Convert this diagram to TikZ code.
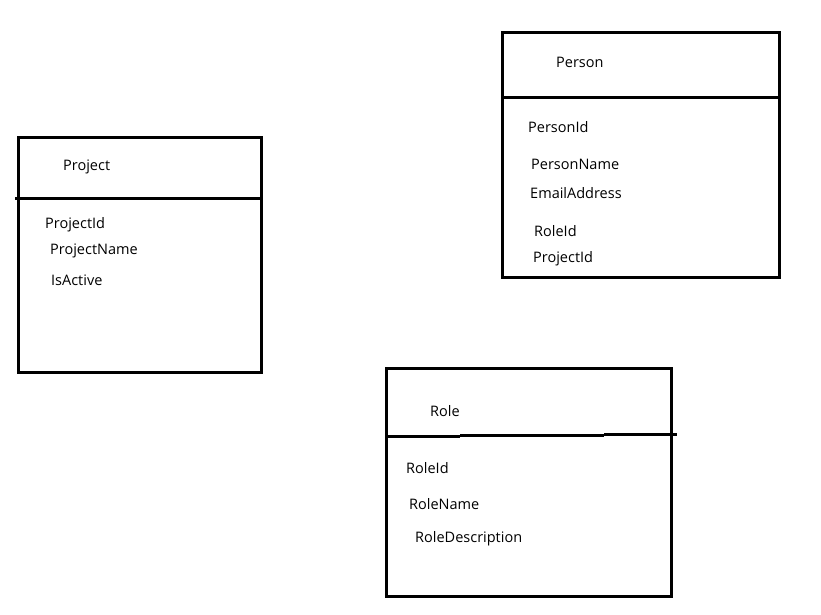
\documentclass[tikz,border=0pt]{standalone}
\usepackage{fontspec}
\setmainfont{Open Sans}
\begin{document}
\begin{tikzpicture}[x=1pt,y=-1pt,
  boxline/.style={line width=3pt,line cap=rect},
  lbl/.style={anchor=base west,inner sep=0pt,font=\fontsize{14.5}{17}\selectfont}]
\useasboundingbox[fill=white] (0,0) rectangle (821,614);
% Project
\draw[boxline] (18,137) rectangle (261,372);
\draw[boxline,line cap=butt] (15,198) -- (263,198);
\node[lbl] (pj) at (63,170) {Project};
\node[lbl] (pj1) at (45,228) {ProjectId};
\node[lbl] (pj2) at (50,254) {ProjectName};
\node[lbl] (pj3) at (51,285) {IsActive};
% Person
\draw[boxline] (502,32) rectangle (779,277);
\draw[boxline,line cap=butt] (502,97) -- (779,97);
\node[lbl] (pe) at (556,67) {Person};
\node[lbl] (pe1) at (528,132) {PersonId};
\node[lbl] (pe2) at (531,169) {PersonName};
\node[lbl] (pe3) at (530,198) {EmailAddress};
\node[lbl] (pe4) at (534,236) {RoleId};
\node[lbl] (pe5) at (533,262) {ProjectId};
% Role
\draw[boxline] (386,368) rectangle (671,596);
\draw[boxline,line cap=butt] (386,436) -- (460,436);
\draw[boxline,line cap=butt] (460,435) -- (604,435);
\draw[boxline,line cap=butt] (604,434.3) -- (677,434.3);
\node[lbl] (ro) at (430,416) {Role};
\node[lbl] (ro1) at (406,473) {RoleId};
\node[lbl] (ro2) at (409,509) {RoleName};
\node[lbl] (ro3) at (415,542) {RoleDescription};
\end{tikzpicture}
\end{document}
